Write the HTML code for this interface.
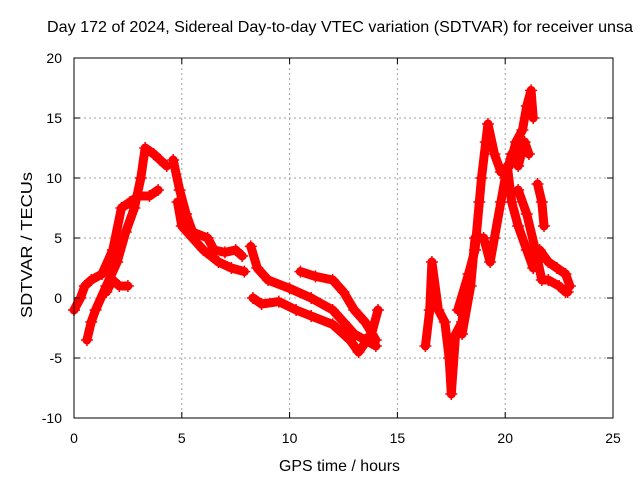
<!DOCTYPE html>
<html><head><meta charset="utf-8"><style>
body{margin:0;background:#fff;}
svg{display:block;font-family:"Liberation Sans",sans-serif;}
</style></head><body>
<svg id="chart" width="640" height="480" viewBox="0 0 640 480">
<rect x="0" y="0" width="640" height="480" fill="#fff"/>
<text x="47" y="32" font-size="16" textLength="586" lengthAdjust="spacingAndGlyphs">Day 172 of 2024, Sidereal Day-to-day VTEC variation (SDTVAR) for receiver unsa</text>
<g id="grid"></g>
<g id="series"></g>
<rect x="74" y="58" width="539" height="360" fill="none" stroke="#000" stroke-width="1"/>
<g id="axes"></g>
<text x="279" y="471" font-size="16" textLength="121" lengthAdjust="spacingAndGlyphs">GPS time / hours</text>
<text transform="translate(32,318) rotate(-90)" font-size="16" textLength="146" lengthAdjust="spacingAndGlyphs">SDTVAR / TECUs</text>
</svg>
<script>
const xTicks=[0,5,10,15,20,25];
const yTicks=[-10,-5,0,5,10,15,20];
const track1=[[0.6,-3.5],[0.8,-2],[1,-1],[1.5,1],[2,3],[2.4,5.5],[2.8,7.5],[3.1,10],[3.3,12.5],[3.7,12],[4,11.5],[4.3,11]];
const track2=[[0,-1],[0.3,0],[0.5,1],[0.8,1.5],[1.3,2],[1.8,4],[2.2,7.5],[2.6,8],[3,8.5],[3.5,8.5],[3.9,9]];
const track3=[[1.5,0.5],[1.8,1.5],[2.1,1],[2.5,1]];
const track4=[[4.6,11.5],[4.9,9],[5.2,7],[5.5,5.5],[6.2,5],[6.5,4],[7,3.8],[7.5,4],[7.8,3.5]];
const track5=[[4.8,8],[5,6],[5.5,5],[6,4],[6.7,3],[7.3,2.5],[7.9,2.2]];
const track6=[[8.2,4.3],[8.5,2.5],[9,1.5],[10,0.8],[11,0],[12,-1],[12.5,-2],[13,-3],[13.5,-3.5],[14,-4]];
const track7=[[8.3,0],[8.7,-0.5],[9.5,-0.3],[10.3,-1],[11,-1.5],[12,-2.2],[12.8,-3.5],[13.2,-4.5],[13.8,-3],[14.1,-1]];
const track8=[[10.5,2.2],[11.2,1.8],[12,1.5],[12.5,0.5],[13,-1],[13.5,-2],[14,-3.5]];
const track9=[[16.3,-4],[16.5,-1],[16.6,3],[16.9,-1],[17.2,-2],[17.4,-5],[17.5,-8],[17.7,-3],[18,-2],[18.1,0]];
const track10=[[17.8,-1],[18.3,2],[18.6,4],[18.8,8],[18.9,10],[19.1,13],[19.2,14.5],[19.5,12],[19.8,10.5],[20.2,11],[20.5,13],[20.8,14],[21,16],[21.2,17.3],[21.3,15]];
const track11=[[18,-3],[18.4,1],[18.6,5],[19,5],[19.3,3],[19.5,5],[19.8,8],[20,10],[20.3,12],[20.6,11],[20.9,13],[21.1,12]];
const track12=[[20.1,11],[20.3,8],[20.6,6],[21,4],[21.3,2.5],[21.6,4],[22,3],[22.4,2.5],[22.8,2],[23,1]];
const track13=[[20.6,9],[21,7],[21.4,4],[21.7,1.5],[22,1.5],[22.5,1],[22.8,0.5],[22.9,0.5]];
const track14=[[21.5,9.5],[21.7,8],[21.8,6]];
const tracks=[track1,track2,track3,track4,track5,track6,track7,track8,track9,track10,track11,track12,track13,track14];
const NS='http://www.w3.org/2000/svg';
const X0=74,X1=613,Y0=418,Y1=58;
function xs(v){return X0+(v-0)/(25-0)*(X1-X0);}
function ys(v){return Y0-(v+10)/30*(Y0-Y1);}
const grid=document.getElementById('grid'),axes=document.getElementById('axes'),ser=document.getElementById('series');
xTicks.forEach(t=>{
  const x=xs(t);
  if(t>0&&t<25){const l=document.createElementNS(NS,'line');
    
    
    l.setAttribute('x1',x);l.setAttribute('x2',x);l.setAttribute('y1',Y1);l.setAttribute('y2',Y0);
    l.setAttribute('stroke','#a0a0a0');l.setAttribute('stroke-dasharray','2,3');grid.appendChild(l);}
  [[Y0,Y0-6],[Y1,Y1+6]].forEach(p=>{const k=document.createElementNS(NS,'line');
    
    
    k.setAttribute('x1',x);k.setAttribute('x2',x);k.setAttribute('y1',p[0]);k.setAttribute('y2',p[1]);k.setAttribute('stroke','#000');axes.appendChild(k);});
  const tx=document.createElementNS(NS,'text');
  
  
  tx.setAttribute('x',x);tx.setAttribute('y',443);tx.setAttribute('font-size','14');tx.setAttribute('text-anchor','middle');tx.textContent=t;axes.appendChild(tx);
});
yTicks.forEach(t=>{
  const y=ys(t);
  if(t>-10&&t<20){const l=document.createElementNS(NS,'line');
    
    
    l.setAttribute('x1',X0);l.setAttribute('x2',X1);l.setAttribute('y1',y);l.setAttribute('y2',y);
    l.setAttribute('stroke','#a0a0a0');l.setAttribute('stroke-dasharray','2,3');grid.appendChild(l);}
  [[X0,X0+6],[X1,X1-6]].forEach(p=>{const k=document.createElementNS(NS,'line');
    
    
    k.setAttribute('x1',p[0]);k.setAttribute('x2',p[1]);k.setAttribute('y1',y);k.setAttribute('y2',y);k.setAttribute('stroke','#000');axes.appendChild(k);});
  const tx=document.createElementNS(NS,'text');
  
  
  tx.setAttribute('x',62);tx.setAttribute('y',y+5);tx.setAttribute('font-size','14');tx.setAttribute('text-anchor','end');tx.textContent=t;axes.appendChild(tx);
});
tracks.forEach((tr,i)=>{
  const pl=document.createElementNS(NS,'polyline');
  
  
  pl.setAttribute('points',tr.map(p=>xs(p[0])+','+ys(p[1])).join(' '));
  pl.setAttribute('fill','none');pl.setAttribute('stroke','#ff0000');pl.setAttribute('stroke-width','9');pl.setAttribute('stroke-linejoin','round');pl.setAttribute('stroke-linecap','round');
  ser.appendChild(pl);
  tr.forEach(p=>{
    const m=document.createElementNS(NS,'path');
    
    
    const x=xs(p[0]),y=ys(p[1]);
    m.setAttribute('d',`M${x-6},${y}H${x+6}M${x},${y-6}V${y+6}`);
    m.setAttribute('stroke','#ff0000');m.setAttribute('stroke-width','1.5');
    ser.appendChild(m);
  });
});
</script>
</body></html>
